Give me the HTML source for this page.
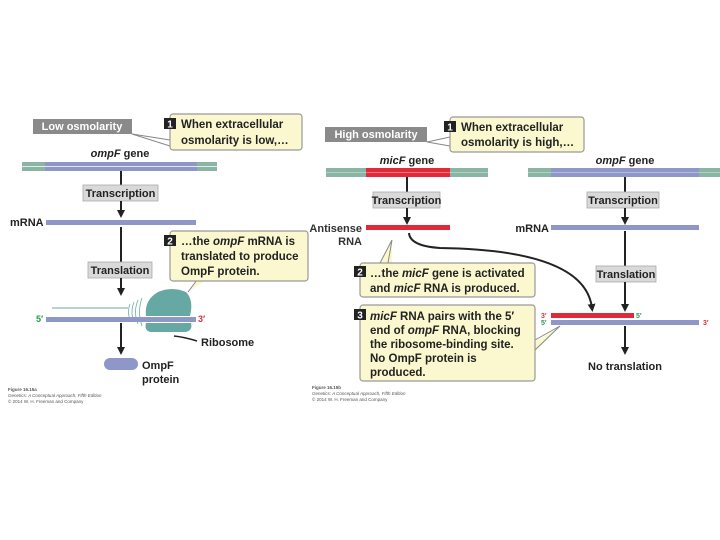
<!DOCTYPE html>
<html><head><meta charset="utf-8"><style>
html,body{margin:0;padding:0;background:#fff;}
svg{display:block;}
text{font-family:"Liberation Sans",Arial,sans-serif;}
.b{font-weight:bold;font-size:11px;fill:#222;}
.cb{font-weight:bold;font-size:11.5px;fill:#222;}
.sm{font-size:4.5px;fill:#555;}
</style></head><body>
<svg width="720" height="540" viewBox="0 0 720 540" xmlns="http://www.w3.org/2000/svg">
<defs>
<marker id="ah" markerWidth="8" markerHeight="8" refX="4" refY="4" orient="auto" markerUnits="userSpaceOnUse">
<path d="M0,0 L8,4 L0,8 Z" fill="#222"/></marker>
</defs>

<!-- LEFT PANEL -->
<rect x="33" y="119" width="99" height="15" fill="#8a8a8a"/>
<text x="82" y="130" text-anchor="middle" class="b" style="fill:#fff">Low osmolarity</text>
<path d="M132,134 L170,140" stroke="#888" stroke-width="1" fill="none"/>
<path d="M132,134 L170,146" stroke="#888" stroke-width="1" fill="none"/>
<rect x="170" y="114" width="132" height="36" rx="3" fill="#fbf8cf" stroke="#999" stroke-width="1.2"/>
<rect x="164" y="118" width="12" height="11" fill="#222"/>
<text x="170" y="127.5" text-anchor="middle" font-size="10" font-weight="bold" fill="#fff">1</text>
<text x="181" y="128" class="cb">When extracellular</text>
<text x="181" y="144" class="cb">osmolarity is low,…</text>

<text x="120" y="157" text-anchor="middle" class="b"><tspan font-style="italic">ompF</tspan> gene</text>
<rect x="22" y="162" width="195" height="9" fill="#8ab4a4"/>
<rect x="45" y="162" width="152" height="9" fill="#8e97c8"/>
<line x1="22" y1="166.5" x2="217" y2="166.5" stroke="#fff" stroke-width="0.8"/>

<line x1="121" y1="171" x2="121" y2="185" stroke="#222" stroke-width="2"/>
<rect x="83" y="185" width="75" height="16" fill="#d9d9d9" stroke="#aaa" stroke-width="0.8"/>
<text x="120.5" y="197" text-anchor="middle" class="b">Transcription</text>
<line x1="121" y1="201" x2="121" y2="214" stroke="#222" stroke-width="2" marker-end="url(#ah)"/>

<text x="10" y="226" class="b">mRNA</text>
<rect x="46" y="220" width="150" height="5" fill="#8e97c8"/>

<line x1="121" y1="227" x2="121" y2="262" stroke="#222" stroke-width="2"/>
<rect x="88" y="262" width="64" height="16" fill="#d9d9d9" stroke="#aaa" stroke-width="0.8"/>
<text x="120" y="274" text-anchor="middle" class="b">Translation</text>
<line x1="121" y1="278" x2="121" y2="292" stroke="#222" stroke-width="2" marker-end="url(#ah)"/>

<path d="M188,292 L197,280 L206,280" stroke="#888" stroke-width="1" fill="#fbf8cf"/>
<rect x="170" y="231" width="138" height="50" rx="3" fill="#fbf8cf" stroke="#999" stroke-width="1.2"/>
<rect x="164" y="235" width="12" height="11" fill="#222"/>
<text x="170" y="244.5" text-anchor="middle" font-size="10" font-weight="bold" fill="#fff">2</text>
<text x="181" y="245" class="cb">…the <tspan font-style="italic">ompF</tspan> mRNA is</text>
<text x="181" y="260" class="cb">translated to produce</text>
<text x="181" y="275" class="cb">OmpF protein.</text>

<!-- ribosome -->
<line x1="52" y1="308" x2="128" y2="308" stroke="#6aaea6" stroke-width="1"/>
<path d="M130,304 q-3,8 0,16 M134,302 q-4,10 0,20 M138,300 q-5,12 0,24 M142,298 q-5,14 0,28" stroke="#6aaea6" stroke-width="0.8" fill="none"/>
<path d="M146,316 Q144,300 158,292 Q172,286 186,292 Q194,300 190,316 Z" fill="#66a9a4"/>
<text x="36" y="322" font-size="9" font-weight="bold" fill="#2a9a4a">5′</text>
<rect x="46" y="317" width="150" height="5" fill="#8e97c8"/>
<path d="M146,323 L191,323 Q193,330 186,332 L150,332 Q144,330 146,323 Z" fill="#66a9a4"/>
<line x1="145" y1="322.5" x2="192" y2="322.5" stroke="#fff" stroke-width="0.8"/>
<text x="198" y="322" font-size="9" font-weight="bold" fill="#d23040">3′</text>
<path d="M174,336 Q184,337 197,341" stroke="#222" stroke-width="1.5" fill="none"/>
<text x="201" y="346" class="b">Ribosome</text>

<line x1="121" y1="323" x2="121" y2="351" stroke="#222" stroke-width="2" marker-end="url(#ah)"/>
<rect x="104" y="358" width="34" height="12" rx="6" fill="#8e97c8"/>
<text x="142" y="369" class="b">OmpF</text>
<text x="142" y="383" class="b">protein</text>

<text x="8" y="391" class="sm" font-weight="bold">Figure 16.15a</text>
<text x="8" y="397" class="sm" font-style="italic">Genetics: A Conceptual Approach, Fifth Edition</text>
<text x="8" y="403" class="sm">© 2014 W. H. Freeman and Company</text>

<!-- RIGHT PANEL -->
<rect x="325" y="127" width="102" height="15" fill="#8a8a8a"/>
<text x="376" y="138" text-anchor="middle" class="b" style="fill:#fff">High osmolarity</text>
<path d="M427,142 L450,137" stroke="#888" stroke-width="1" fill="none"/>
<path d="M427,142 L450,146" stroke="#888" stroke-width="1" fill="none"/>
<rect x="450" y="117" width="134" height="35" rx="3" fill="#fbf8cf" stroke="#999" stroke-width="1.2"/>
<rect x="444" y="121" width="12" height="11" fill="#222"/>
<text x="450" y="130.5" text-anchor="middle" font-size="10" font-weight="bold" fill="#fff">1</text>
<text x="461" y="131" class="cb">When extracellular</text>
<text x="461" y="146" class="cb">osmolarity is high,…</text>

<text x="407" y="164" text-anchor="middle" class="b"><tspan font-style="italic">micF</tspan> gene</text>
<rect x="326" y="168" width="162" height="9" fill="#8ab4a4"/>
<rect x="366" y="168" width="84" height="9" fill="#e02a3a"/>
<line x1="326" y1="172.5" x2="488" y2="172.5" stroke="#fff" stroke-width="0.6" opacity="0.7"/>

<text x="625" y="164" text-anchor="middle" class="b"><tspan font-style="italic">ompF</tspan> gene</text>
<rect x="528" y="168" width="192" height="9" fill="#8ab4a4"/>
<rect x="551" y="168" width="148" height="9" fill="#8e97c8"/>
<line x1="528" y1="172.5" x2="720" y2="172.5" stroke="#fff" stroke-width="0.6" opacity="0.7"/>

<line x1="407" y1="177" x2="407" y2="193" stroke="#222" stroke-width="2"/>
<rect x="373" y="192" width="67" height="16" fill="#d9d9d9" stroke="#aaa" stroke-width="0.8"/>
<text x="406.5" y="204" text-anchor="middle" class="b">Transcription</text>
<line x1="407" y1="208" x2="407" y2="221" stroke="#222" stroke-width="2" marker-end="url(#ah)"/>

<line x1="625" y1="177" x2="625" y2="193" stroke="#222" stroke-width="2"/>
<rect x="587" y="192" width="72" height="16" fill="#d9d9d9" stroke="#aaa" stroke-width="0.8"/>
<text x="623" y="204" text-anchor="middle" class="b">Transcription</text>
<line x1="625" y1="208" x2="625" y2="221" stroke="#222" stroke-width="2" marker-end="url(#ah)"/>

<text x="362" y="232" text-anchor="end" font-size="11" font-weight="bold" fill="#333">Antisense</text>
<text x="362" y="245" text-anchor="end" font-size="11" font-weight="bold" fill="#333">RNA</text>
<rect x="366" y="225" width="84" height="5" fill="#e02a3a"/>

<text x="549" y="232" text-anchor="end" class="b">mRNA</text>
<rect x="551" y="225" width="148" height="5" fill="#8e97c8"/>

<path d="M409,233 Q410,246 440,248 Q585,250 592,308" stroke="#222" stroke-width="2" fill="none" marker-end="url(#ah)"/>

<line x1="625" y1="231" x2="625" y2="266" stroke="#222" stroke-width="2"/>
<rect x="596" y="266" width="60" height="16" fill="#d9d9d9" stroke="#aaa" stroke-width="0.8"/>
<text x="626" y="278" text-anchor="middle" class="b">Translation</text>
<line x1="625" y1="282" x2="625" y2="308" stroke="#222" stroke-width="2" marker-end="url(#ah)"/>

<path d="M392,240 L380,264 L392,264 Z" fill="#fbf8cf"/>
<path d="M392,240 L380,263 M392,240 L388,263" stroke="#888" stroke-width="1" fill="none"/>
<rect x="360" y="263" width="175" height="34" rx="3" fill="#fbf8cf" stroke="#999" stroke-width="1.2"/>
<rect x="354" y="266" width="12" height="11" fill="#222"/>
<text x="360" y="275.5" text-anchor="middle" font-size="10" font-weight="bold" fill="#fff">2</text>
<text x="370" y="277" class="cb">…the <tspan font-style="italic">micF</tspan> gene is activated</text>
<text x="370" y="292" class="cb">and <tspan font-style="italic">micF</tspan> RNA is produced.</text>

<path d="M535,342 L560,326 L535,352 Z" fill="#fbf8cf"/>
<path d="M535,340 L560,326 L535,350" stroke="#888" stroke-width="1" fill="none"/>
<rect x="360" y="305" width="175" height="76" rx="3" fill="#fbf8cf" stroke="#999" stroke-width="1.2"/>
<rect x="354" y="309" width="12" height="11" fill="#222"/>
<text x="360" y="318.5" text-anchor="middle" font-size="10" font-weight="bold" fill="#fff">3</text>
<text x="370" y="320" class="cb"><tspan font-style="italic">micF</tspan> RNA pairs with the 5′</text>
<text x="370" y="334" class="cb">end of <tspan font-style="italic">ompF</tspan> RNA, blocking</text>
<text x="370" y="348" class="cb">the ribosome-binding site.</text>
<text x="370" y="362" class="cb">No OmpF protein is</text>
<text x="370" y="376" class="cb">produced.</text>

<text x="541" y="318" font-size="7" font-weight="bold" fill="#d23040">3′</text>
<rect x="551" y="313" width="83" height="5" fill="#e02a3a"/>
<text x="636" y="318" font-size="7" font-weight="bold" fill="#2a9a4a">5′</text>
<text x="541" y="325" font-size="7" font-weight="bold" fill="#2a9a4a">5′</text>
<rect x="551" y="320" width="148" height="5" fill="#8e97c8"/>
<text x="703" y="325" font-size="7" font-weight="bold" fill="#d23040">3′</text>

<line x1="625" y1="326" x2="625" y2="351" stroke="#222" stroke-width="2" marker-end="url(#ah)"/>
<text x="625" y="370" text-anchor="middle" class="b">No translation</text>

<text x="312" y="389" class="sm" font-weight="bold">Figure 16.15b</text>
<text x="312" y="395" class="sm" font-style="italic">Genetics: A Conceptual Approach, Fifth Edition</text>
<text x="312" y="401" class="sm">© 2014 W. H. Freeman and Company</text>
</svg>
</body></html>
